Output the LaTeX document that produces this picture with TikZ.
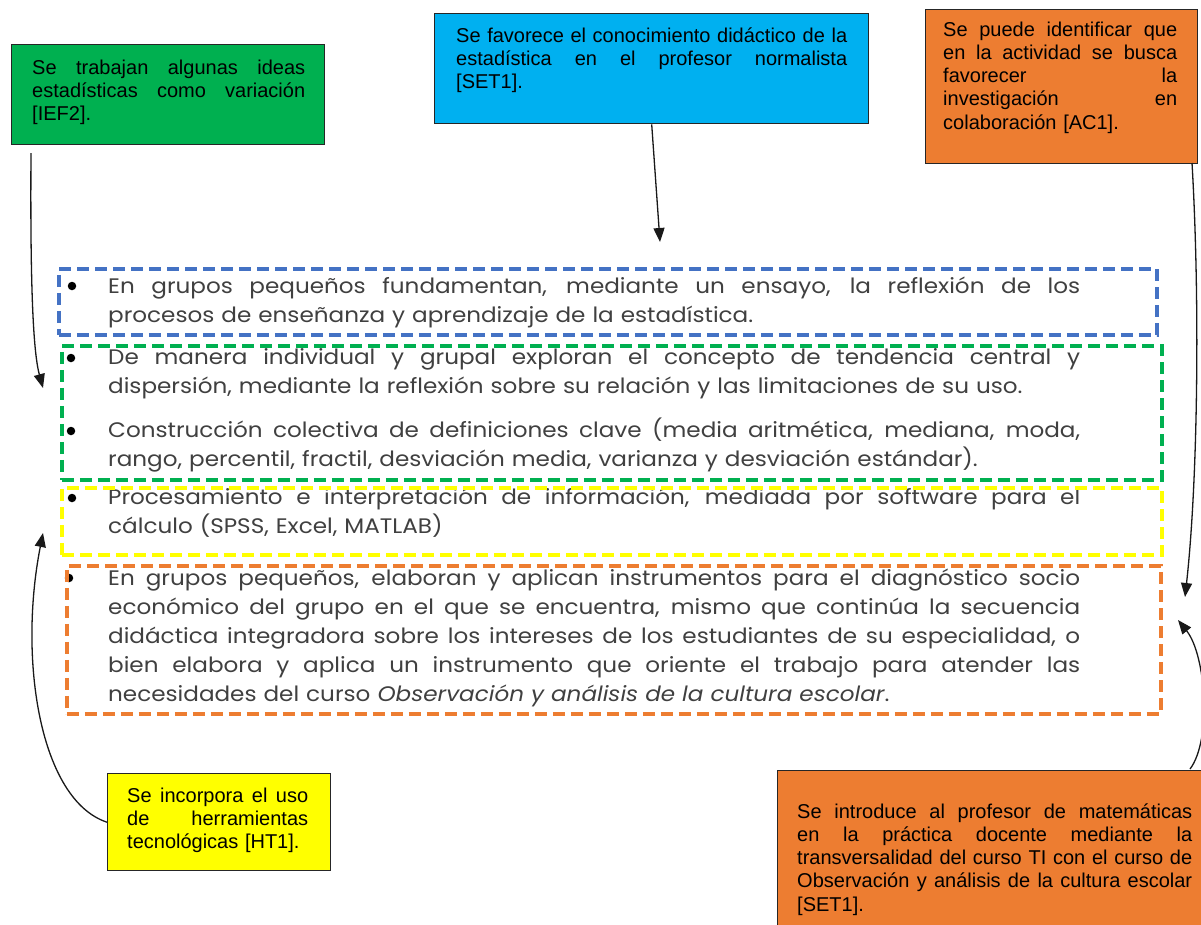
\documentclass[tikz,border=0pt]{standalone}
\usepackage{fontspec}
\setmainfont{Liberation Sans}
\newfontfamily\bodyfont[FakeStretch=1.1]{Poppins}
\usetikzlibrary{arrows.meta}

\definecolor{cgreen}{HTML}{00B050}
\definecolor{cblue}{HTML}{00B0F0}
\definecolor{corange}{HTML}{ED7D31}
\definecolor{cyellow}{HTML}{FFFF00}
\definecolor{dblue}{HTML}{4472C4}
\definecolor{bodygray}{HTML}{404040}

% a line stretched to the full width of its paragraph
\newcommand{\jl}[1]{\makebox[\hsize][s]{\spaceskip=0pt\xspaceskip=0pt #1}\\\relax}

\tikzset{
  cbox/.style={draw=black!85, line width=1.4pt, inner sep=0pt, anchor=north west},
  ctext/.style={text width=#1, align=left, inner sep=0pt, anchor=base west,
                font=\fontsize{20}{23.3}\selectfont, text=black},
  mtext/.style={text width=972pt, align=left, inner sep=0pt, anchor=base west,
                font=\bodyfont\fontsize{21}{29}\selectfont, text=bodygray},
  dbox/.style={line width=3.5pt, dash pattern=on 12pt off 6pt, inner sep=0pt, anchor=north west},
  bul/.style={circle, fill=black, inner sep=0pt, minimum size=8.5pt},
  link/.style={line width=1.3pt, draw=black!90, -{Triangle[length=14pt,width=11pt]}},
}

\begin{document}
\begin{tikzpicture}[x=1pt, y=-1pt]
\useasboundingbox (0,0) rectangle (1201,924);
\clip (0,0) rectangle (1201,924);
\fill[white] (0,0) rectangle (1201,924);

% ---- activity list ----
\node[mtext] (p1) at (108,293) {%
\jl{En grupos pequeños fundamentan, mediante un ensayo, la reflexión de los}
procesos de enseñanza y aprendizaje de la estadística.};
\node[mtext] (p2) at (108,364) {%
\jl{De manera individual y grupal exploran el concepto de tendencia central y}
dispersión, mediante la reflexión sobre su relación y las limitaciones de su uso.};
\node[mtext] (p3) at (108,437) {%
\jl{Construcción colectiva de definiciones clave (media aritmética, mediana, moda,}
rango, percentil, fractil, desviación media, varianza y desviación estándar).};
\node[mtext] (p4) at (108,504) {%
\jl{Procesamiento e interpretación de información, mediada por software para el}
cálculo (SPSS, Excel, MATLAB)};
\node[mtext] (p5) at (108,585) {%
\jl{En grupos pequeños, elaboran y aplican instrumentos para el diagnóstico socio}
\jl{económico del grupo en el que se encuentra, mismo que continúa la secuencia}
\jl{didáctica integradora sobre los intereses de los estudiantes de su especialidad, o}
\jl{bien elabora y aplica un instrumento que oriente el trabajo para atender las}
necesidades del curso \textit{Observación y análisis de la cultura escolar}.};

\node[bul] (b1) at (72,286) {};
\node[bul] (b2) at (71,358) {};
\node[bul] (b3) at (71,431) {};
\node[bul] (b4) at (72,498) {};
\node[bul] (b5) at (69,578) {};

% ---- dashed groupings ----
\node[dbox, draw=dblue, minimum width=1098pt, minimum height=66pt] (gblue) at (57,267) {};
\node[dbox, draw=cgreen, minimum width=1100pt, minimum height=134pt] (ggreen) at (60,344) {};
\node[dbox, draw=cyellow, minimum width=1100pt, minimum height=67pt] (gyellow) at (60,486) {};
\node[dbox, draw=corange, minimum width=1094pt, minimum height=148pt] (gorange) at (65,564) {};

% ---- callouts ----
\node[cbox, fill=cgreen, minimum width=313pt, minimum height=100pt] (ief) at (11,44) {};
\node[ctext=273pt] (ieftxt) at (32,74) {%
\jl{Se trabajan algunas ideas}
\jl{estadísticas como variación}
[IEF2].};

\node[cbox, fill=cblue, minimum width=434pt, minimum height=110pt] (set) at (434,13) {};
\node[ctext=391pt] (settxt) at (456,42) {%
\jl{Se favorece el conocimiento didáctico de la}
\jl{estadística en el profesor normalista}
[SET1].};

\node[cbox, fill=corange, minimum width=272pt, minimum height=154pt] (ac) at (925,9) {};
\node[ctext=234pt] (actxt) at (943,36) {%
\jl{Se puede identificar que}
\jl{en la actividad se busca}
\jl{favorecer la}
\jl{investigación en}
colaboración [AC1].};

\node[cbox, fill=cyellow, minimum width=223pt, minimum height=97pt] (ht) at (107,773) {};
\node[ctext=181pt] (httxt) at (127,802) {%
\jl{Se incorpora el uso}
\jl{de herramientas}
tecnológicas [HT1].};

\node[cbox, fill=corange, minimum width=500pt, minimum height=220pt] (set2) at (777,770) {};
\node[ctext=395pt] (set2txt) at (797,818) {%
\jl{Se introduce al profesor de matemáticas}
\jl{en la práctica docente mediante la}
\jl{transversalidad del curso TI con el curso de}
\jl{Observación y análisis de la cultura escolar}
[SET1].};

% ---- connectors ----
\coordinate (iefout) at (31,153);
\coordinate (iefin) at (43,388);
\coordinate (setin) at (660,242);
\coordinate (acout) at (1192,163);
\coordinate (acin) at (1185,597);
\coordinate (set2out) at (1190,769);
\coordinate (set2in) at (1178,620);
\coordinate (htin) at (43,533);

\draw[link] (iefout) .. controls (30,300) and (34,355) .. (iefin);
\draw[link] (set.south) -- (setin);
\draw[link] (acout) .. controls (1200,300) and (1198,480) .. (acin);
\draw[link] (set2out) .. controls (1212,740) and (1206,655) .. (set2in);
\draw[link] (ht.west) .. controls (40,800) and (18,660) .. (htin);
\end{tikzpicture}
\end{document}
